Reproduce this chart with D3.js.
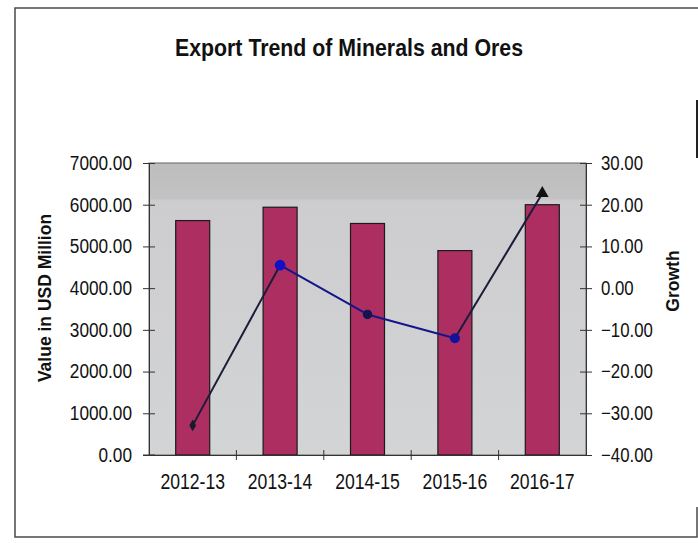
<!DOCTYPE html>
<html>
<head>
<meta charset="utf-8">
<script src="https://cdn.jsdelivr.net/npm/d3@7"></script>
<style>
  html, body { margin: 0; padding: 0; background: #fff; }
  svg { display: block; }
  .narrow { font-family: "Liberation Sans", Arial, sans-serif; }
</style>
</head>
<body>
<svg id="chart" width="698" height="543"></svg>
<script>
// ---- data ----
const categories = ["2012-13", "2013-14", "2014-15", "2015-16", "2016-17"];
const exportValues = [5620, 5940, 5550, 4900, 6000];
const growthValues = [-32.9, 5.5, -6.3, -12.0, 22.7];
const leftTicks = [0, 1000, 2000, 3000, 4000, 5000, 6000, 7000];
const rightTicks = [-40, -30, -20, -10, 0, 10, 20, 30];

const svg = d3.select("#chart");

// frame
const frame = svg.append("g").attr("fill", "none").attr("stroke", "#4a4a4a").attr("stroke-width", 1.5);
frame.append("path").attr("d", "M698,8 L15,8 L15,537 L697,537 L697,507");
frame.append("path").attr("d", "M697,100 L697,158").attr("stroke", "#222").attr("stroke-width", 2);

const plot = { left: 149, right: 586, top: 163, bottom: 455 };

const xb = d3.scaleBand().domain(categories).range([plot.left, plot.right]);
const yL = d3.scaleLinear().domain([0, 7000]).range([plot.bottom, plot.top]);
const yR = d3.scaleLinear().domain([-40, 30]).range([plot.bottom, plot.top]);

// plot background
const defs = svg.append("defs");
const grad = defs.append("linearGradient").attr("id", "bg").attr("x1", 0).attr("y1", 0).attr("x2", 0).attr("y2", 1);
grad.append("stop").attr("offset", "0%").attr("stop-color", "#bdbdbd");
grad.append("stop").attr("offset", "12%").attr("stop-color", "#c2c2c2");
grad.append("stop").attr("offset", "13%").attr("stop-color", "#cdcdcf");
grad.append("stop").attr("offset", "100%").attr("stop-color", "#d3d4d6");
svg.append("rect")
  .attr("x", plot.left).attr("y", plot.top)
  .attr("width", plot.right - plot.left).attr("height", plot.bottom - plot.top)
  .attr("fill", "url(#bg)").attr("stroke", "#666").attr("stroke-width", 1);

// bars
svg.append("g").selectAll("rect").data(exportValues).join("rect")
  .attr("x", (d, i) => xb(categories[i]) + xb.bandwidth() / 2 - 17)
  .attr("width", 34)
  .attr("y", d => yL(d))
  .attr("height", d => yL(0) - yL(d))
  .attr("fill", "#ad2f62")
  .attr("stroke", "#1a1a1a")
  .attr("stroke-width", 1.2);

// helper to condense text horizontally
function condense(sel, factor) {
  sel.each(function () {
    const len = this.getComputedTextLength();
    d3.select(this).attr("textLength", len * factor).attr("lengthAdjust", "spacingAndGlyphs");
  });
}
const fontSpec = (g, size) => g.attr("class", "narrow").attr("font-size", size).attr("fill", "#111");

const axL = svg.append("g").attr("transform", `translate(${plot.left},0)`)
  .call(d3.axisLeft(yL).tickValues(leftTicks).tickFormat(d3.format(".2f")).tickSizeInner(5).tickSizeOuter(0).tickPadding(12));
axL.selectAll(".tick line").attr("x2", 6).attr("x1", -6).attr("stroke", "#333");
axL.select(".domain").attr("stroke", "#333");
axL.selectAll("text").call(fontSpec, 20).call(condense, 0.86);

const axR = svg.append("g").attr("transform", `translate(${plot.right},0)`)
  .call(d3.axisRight(yR).tickValues(rightTicks).tickFormat(d3.format(".2f")).tickSizeInner(5).tickSizeOuter(0).tickPadding(10));
axR.selectAll(".tick line").attr("x1", -6).attr("x2", 6).attr("stroke", "#333");
axR.select(".domain").attr("stroke", "#333");
axR.selectAll("text").call(fontSpec, 20).call(condense, 0.84);

const axB = svg.append("g").attr("transform", `translate(0,${plot.bottom})`)
  .call(d3.axisBottom(xb).tickSize(0).tickPadding(18));
axB.select(".domain").attr("stroke", "#333");
axB.selectAll("text").call(fontSpec, 22).call(condense, 0.8);
svg.append("g").selectAll("line").data(categories.slice(1)).join("line")
  .attr("x1", d => xb(d)).attr("x2", d => xb(d))
  .attr("y1", plot.bottom - 5).attr("y2", plot.bottom + 5)
  .attr("stroke", "#333");
svg.append("line").attr("x1", plot.left - 6).attr("x2", plot.left + 6)
  .attr("y1", plot.bottom).attr("y2", plot.bottom).attr("stroke", "#333");

// growth line
const cx = i => xb(categories[i]) + xb.bandwidth() / 2;
const segColors = ["#1c1c3a", "#15158a", "#15158a", "#1c1c3a"];
const g2 = svg.append("g");
for (let i = 0; i < growthValues.length - 1; i++) {
  g2.append("line")
    .attr("x1", cx(i)).attr("y1", yR(growthValues[i]))
    .attr("x2", cx(i + 1)).attr("y2", yR(growthValues[i + 1]))
    .attr("stroke", segColors[i]).attr("stroke-width", 2);
}
const markerStyle = [
  { type: d3.symbolDiamond, size: 40, fill: "#1a1a2a" },
  { type: d3.symbolCircle, size: 90, fill: "#1010c8" },
  { type: d3.symbolCircle, size: 70, fill: "#141450" },
  { type: d3.symbolCircle, size: 80, fill: "#12129a" },
  { type: d3.symbolTriangle, size: 70, fill: "#111" }
];
g2.selectAll("path").data(growthValues).join("path")
  .attr("transform", (d, i) => `translate(${cx(i)},${yR(d)})`)
  .attr("d", (d, i) => d3.symbol().type(markerStyle[i].type).size(markerStyle[i].size)())
  .attr("fill", (d, i) => markerStyle[i].fill);

// title
svg.append("text").attr("class", "narrow")
  .attr("x", 349).attr("y", 56).attr("text-anchor", "middle")
  .attr("font-size", 23).attr("font-weight", "bold").attr("fill", "#111")
  .attr("textLength", 348).attr("lengthAdjust", "spacingAndGlyphs")
  .text("Export Trend of Minerals and Ores");

// axis titles
svg.append("text")
  .attr("transform", "translate(51,298) rotate(-90)")
  .attr("text-anchor", "middle")
  .attr("font-family", "Liberation Sans, Arial, sans-serif")
  .attr("font-size", 17.5).attr("font-weight", "bold").attr("fill", "#111")
  .text("Value in USD Million");
svg.append("text")
  .attr("transform", "translate(679,281) rotate(-90)")
  .attr("text-anchor", "middle")
  .attr("font-family", "Liberation Sans, Arial, sans-serif")
  .attr("font-size", 17.5).attr("font-weight", "bold").attr("fill", "#111")
  .text("Growth");
</script>
</body>
</html>
